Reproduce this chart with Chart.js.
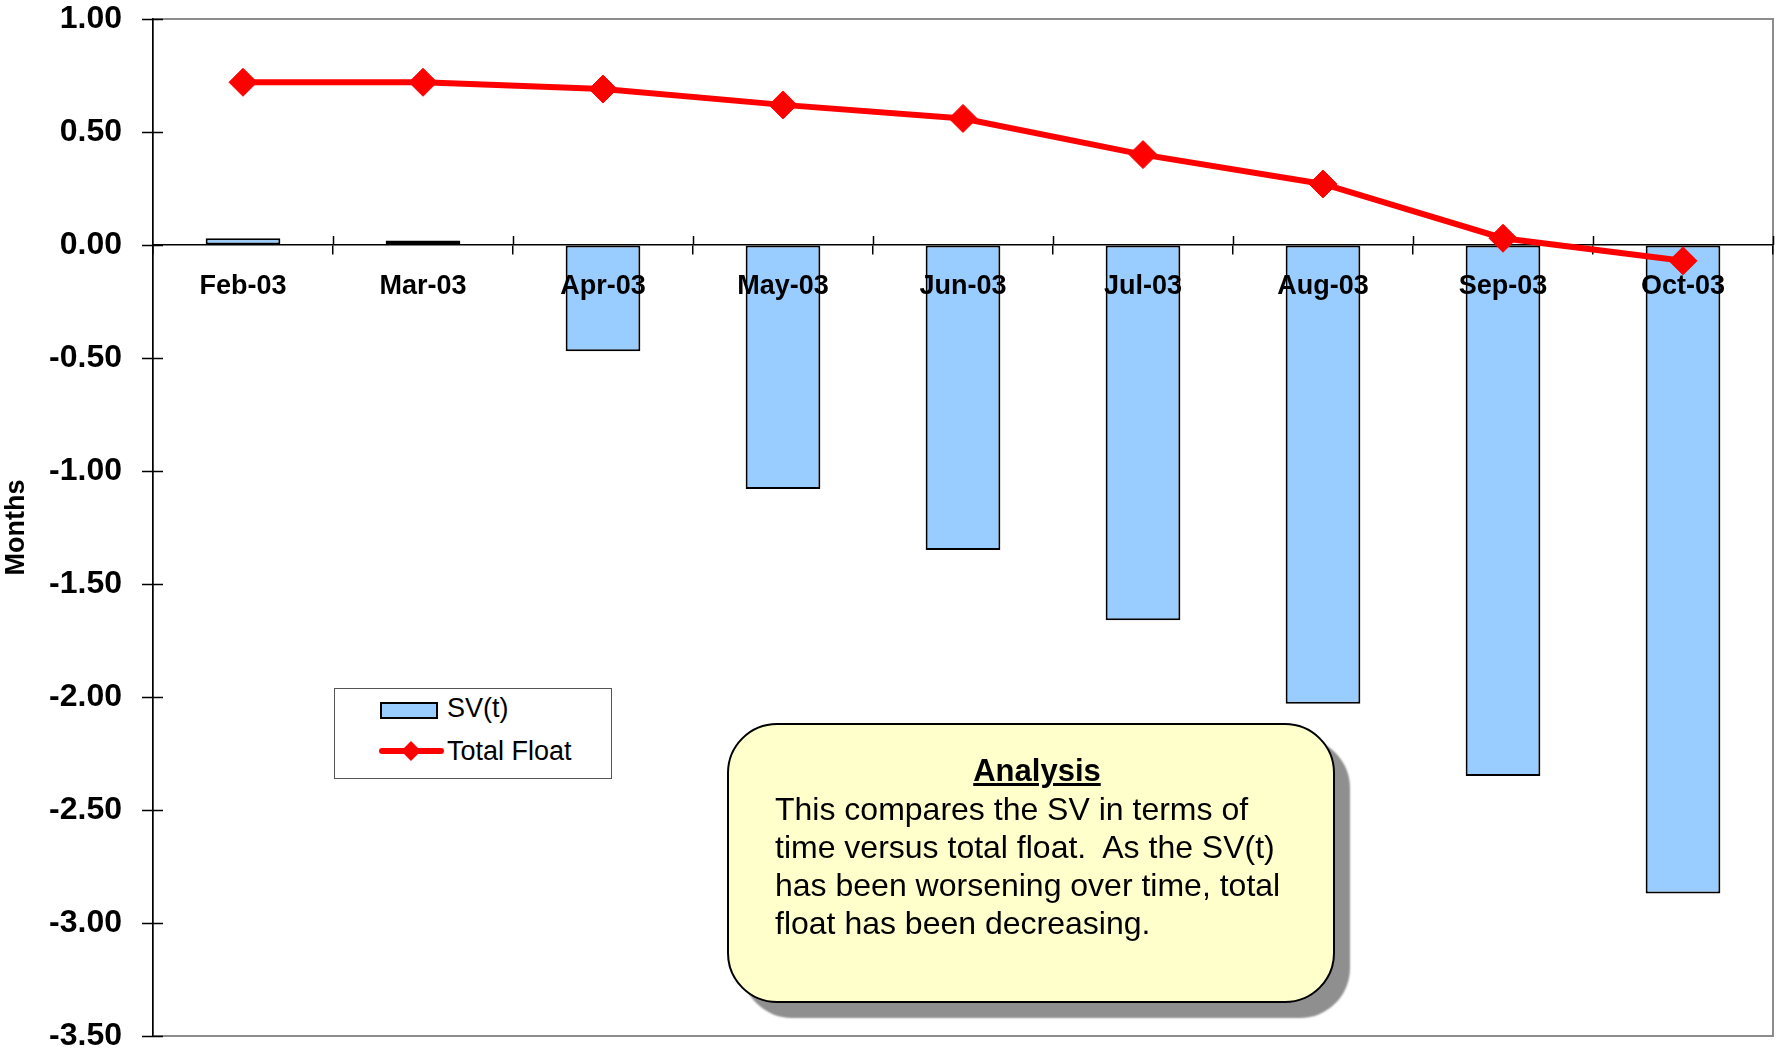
<!DOCTYPE html>
<html lang="en">
<head>
  <meta charset="UTF-8">
  <title>SV(t) vs Total Float</title>
  <script src="https://cdn.jsdelivr.net/npm/chart.js"></script>
  <style>
    body { margin: 0; background: #fff; font-family: "Liberation Sans", Arial, sans-serif; overflow: hidden; }
    #wrap { position: relative; width: 1777px; height: 1059px; overflow: hidden; }
    #legend {
      position: absolute; left: 334px; top: 688px; width: 276px; height: 89px;
      border: 1px solid #555; background: #fff;
    }
    .item { position: absolute; left: 0; height: 30px; font-size: 27px; line-height: 30px; white-space: nowrap; }
    .item span.txt { position: absolute; left: 112px; top: 0; }
    .swatch-bar { position: absolute; left: 45px; top: 9px; width: 54px; height: 13px; background: #99CCFF; border: 2px solid #000; }
    .swatch-line { position: absolute; left: 44px; top: 12px; width: 65px; height: 6px; background: #ff0000; border-radius: 3px; }
    .swatch-pt { position: absolute; left: 69px; top: 8px; width: 14px; height: 14px; background: #ff0000; transform: rotate(45deg); }
    #note {
      position: absolute; left: 727px; top: 723px; width: 604px; height: 276px;
      border: 2px solid #000; border-radius: 50px; background: #FFFFCC;
      box-shadow: 15px 15px 2px #8f8f8f;
      box-sizing: content-box;
    }
    #note .head { position: absolute; left: 46px; right: 34px; top: 27px; text-align: center; font-weight: bold; font-size: 31px; line-height: 38px; text-decoration: underline; }
    #note .body { position: absolute; left: 46px; top: 65px; font-size: 32px; line-height: 38px; white-space: nowrap; }
  </style>
</head>
<body>
<div id="wrap">
  <canvas id="chart" width="1788" height="1059"></canvas>
  <div id="legend"></div>
  <div id="note">
    <div class="head">Analysis</div>
    <div class="body">This compares the SV in terms of<br>time versus total float.&nbsp; As the SV(t)<br>has been worsening over time, total<br>float has been decreasing.</div>
  </div>
</div>

<script>
  // data
  const months = ["Feb-03", "Mar-03", "Apr-03", "May-03", "Jun-03", "Jul-03", "Aug-03", "Sep-03", "Oct-03"];
  const svT = [0.03, 0.02, -0.47, -1.08, -1.35, -1.66, -2.03, -2.35, -2.87];
  const totalFloat = [0.72, 0.72, 0.69, 0.62, 0.56, 0.40, 0.27, 0.03, -0.07];
  const seriesNames = ["SV(t)", "Total Float"];
  const yMin = -3.5, yMax = 1.0, yStep = 0.5;

  const FONT = "'Liberation Sans', Arial, sans-serif";

  // gray frame around plot, plus tick marks that cross the axes
  const framePlugin = {
    id: "frame",
    beforeDraw(chart) {
      const { ctx, chartArea: a } = chart;
      ctx.save();
      ctx.strokeStyle = "#8c8c8c";
      ctx.lineWidth = 2;
      ctx.strokeRect(a.left, a.top, a.right - a.left, a.bottom - a.top);
      ctx.restore();
    },
    afterDatasetsDraw(chart) {
      const { ctx, chartArea: a, scales } = chart;
      const x = scales.x, y = scales.y;
      ctx.save();
      ctx.strokeStyle = "#000";
      ctx.lineWidth = 1.5;
      ctx.beginPath();
      y.ticks.forEach((t, i) => {
        const py = Math.round(y.getPixelForTick(i)) + 0.5;
        ctx.moveTo(a.left - 11, py);
        ctx.lineTo(a.left + 10, py);
      });
      const zero = y.getPixelForValue(0);
      const n = months.length;
      for (let i = 1; i <= n; i++) {
        const px = Math.round(x.left + i * (x.right - x.left) / n) + 0.5;
        ctx.moveTo(px, zero);
        ctx.lineTo(px, zero - 9);
      }
      ctx.stroke();
      ctx.restore();
    }
  };

  const ctx = document.getElementById("chart").getContext("2d");
  new Chart(ctx, {
    data: {
      labels: months,
      datasets: [
        {
          type: "line",
          label: seriesNames[1],
          data: totalFloat,
          order: 0,
          borderColor: "#ff0000",
          borderWidth: 6,
          tension: 0,
          pointStyle: "rectRot",
          pointRadius: 14,
          pointBackgroundColor: "#ff0000",
          pointBorderColor: "#ff0000",
          pointBorderWidth: 1,
          clip: false
        },
        {
          type: "bar",
          label: seriesNames[0],
          data: svT,
          order: 1,
          backgroundColor: "#99CCFF",
          borderColor: "#000",
          borderWidth: 2,
          borderSkipped: false,
          barPercentage: 0.415,
          categoryPercentage: 1.0
        }
      ]
    },
    options: {
      responsive: false,
      animation: false,
      layout: { padding: { left: 0, top: 19, right: 6, bottom: 23 } },
      plugins: { legend: { display: false }, tooltip: { enabled: false } },
      scales: {
        x: {
          type: "category",
          position: { y: 0 },
          offset: true,
          afterFit(scale) { scale.paddingLeft = 0; scale.paddingRight = 0; },
          grid: { display: true, offset: true, drawOnChartArea: false, tickLength: 9, color: "#000", lineWidth: 1.5 },
          border: { display: true, color: "#000", width: 1.5 },
          ticks: {
            z: 1,
            color: "#000",
            padding: 16,
            maxRotation: 0,
            autoSkip: false,
            font: { family: FONT, size: 27, weight: "bold" }
          }
        },
        y: {
          min: yMin,
          max: yMax,
          afterFit(scale) { scale.width = 153; },
          grid: { display: true, drawOnChartArea: false, drawTicks: true, tickLength: 31, color: "rgba(0,0,0,0)" },
          border: { display: true, color: "#000", width: 1.5 },
          ticks: {
            stepSize: yStep,
            color: "#000",
            padding: 0,
            font: { family: FONT, size: 32, weight: "bold", lineHeight: 1 },
            callback: v => Number(v).toFixed(2)
          },
          title: {
            display: true,
            text: "Months",
            color: "#000",
            padding: 0,
            font: { family: FONT, size: 27, weight: "bold", lineHeight: 1.2 }
          }
        }
      }
    },
    plugins: [framePlugin]
  });

  // legend built from the series names
  const legend = document.getElementById("legend");
  legend.innerHTML =
    '<div class="item" style="top:4px"><div class="swatch-bar"></div><span class="txt">' + seriesNames[0] + '</span></div>' +
    '<div class="item" style="top:47px"><div class="swatch-line"></div><div class="swatch-pt"></div><span class="txt">' + seriesNames[1] + '</span></div>';
</script>
</body>
</html>
